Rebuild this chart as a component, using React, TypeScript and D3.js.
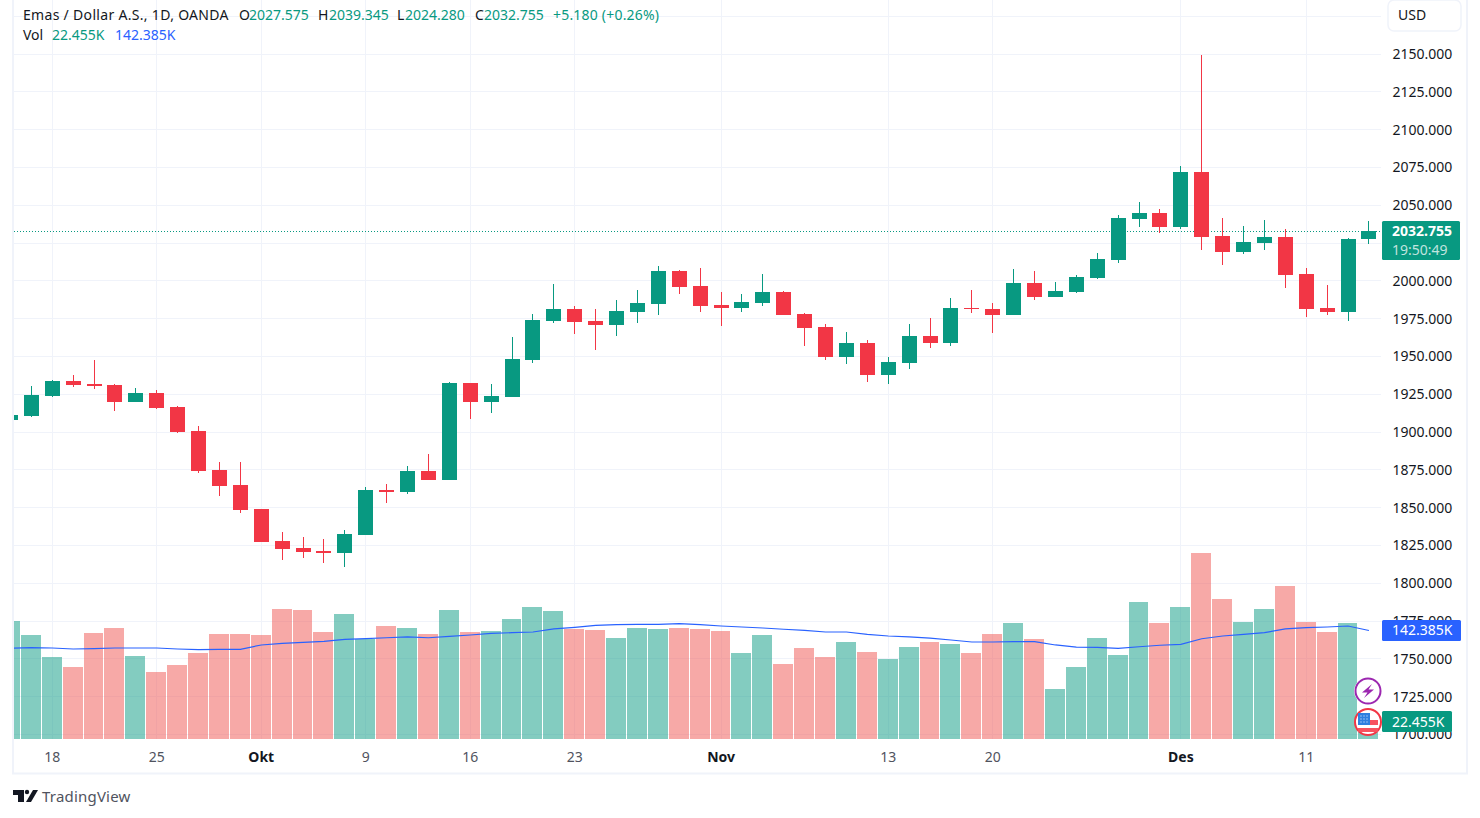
import React, { useEffect, useRef } from "react";
import * as d3 from "d3";

const opens = [1907.7, 1910.3, 1923.5, 1933.4, 1931.5, 1930.8, 1919.6, 1925.5, 1916.2, 1900.4, 1874.6, 1864.7, 1848.8, 1827.6, 1823.0, 1821.0, 1819.7, 1831.6, 1861.4, 1860.0, 1873.9, 1868.0, 1932.1, 1919.6, 1922.9, 1947.3, 1973.1, 1981.1, 1973.1, 1970.5, 1979.1, 1984.4, 2006.2, 1996.3, 1983.7, 1981.7, 1985.0, 1992.3, 1977.8, 1969.2, 1949.3, 1958.6, 1937.4, 1945.3, 1963.2, 1958.6, 1981.7, 1981.1, 1977.1, 1998.3, 1989.0, 1992.3, 2001.6, 2013.5, 2040.6, 2044.5, 2035.3, 2071.7, 2029.3, 2018.7, 2024.7, 2028.7, 2004.2, 1981.7, 1979.1, 2027.575];
const highs = [1911.0, 1930.1, 1934.1, 1937.4, 1947.3, 1931.5, 1928.8, 1927.5, 1916.9, 1903.7, 1879.9, 1879.9, 1848.8, 1833.6, 1830.3, 1829.0, 1834.9, 1863.3, 1865.3, 1877.2, 1885.2, 1932.8, 1932.1, 1931.5, 1962.5, 1977.8, 1997.6, 1983.0, 1981.1, 1987.0, 1993.6, 2009.5, 2006.9, 2008.2, 1992.3, 1991.0, 2004.2, 1993.0, 1978.4, 1971.1, 1965.8, 1960.6, 1949.3, 1971.1, 1975.1, 1988.3, 1993.6, 1985.0, 2007.5, 2006.2, 1998.9, 2003.5, 2018.1, 2043.2, 2051.8, 2047.2, 2075.6, 2149.0, 2041.2, 2035.9, 2039.9, 2033.9, 2008.2, 1996.9, 2028.0, 2039.345];
const lows = [1907.7, 1909.6, 1922.9, 1929.5, 1928.2, 1913.6, 1919.6, 1914.9, 1899.1, 1872.6, 1857.4, 1846.2, 1827.0, 1815.1, 1816.4, 1813.1, 1810.4, 1831.6, 1852.8, 1858.7, 1868.0, 1868.0, 1908.3, 1912.3, 1922.9, 1945.3, 1971.8, 1964.5, 1953.9, 1963.2, 1971.8, 1977.1, 1991.0, 1979.1, 1969.8, 1979.1, 1983.0, 1977.1, 1956.6, 1947.3, 1944.7, 1932.8, 1931.5, 1941.4, 1955.3, 1956.6, 1978.4, 1965.2, 1977.1, 1987.0, 1989.0, 1991.6, 2000.9, 2011.5, 2035.3, 2031.3, 2033.9, 2020.1, 2010.2, 2017.4, 2020.1, 1995.0, 1975.8, 1977.1, 1973.1, 2024.28];
const closes = [1911.0, 1924.2, 1933.4, 1930.8, 1930.1, 1919.6, 1925.5, 1915.6, 1899.7, 1873.9, 1864.0, 1848.1, 1827.0, 1822.4, 1820.4, 1819.7, 1832.3, 1861.4, 1860.0, 1873.9, 1868.0, 1932.1, 1919.6, 1923.5, 1948.0, 1973.8, 1981.1, 1972.5, 1970.5, 1979.7, 1985.0, 2006.2, 1995.6, 1983.0, 1981.7, 1985.7, 1992.3, 1977.1, 1968.5, 1949.3, 1958.6, 1937.4, 1946.0, 1963.2, 1958.6, 1981.7, 1981.1, 1977.1, 1998.3, 1989.0, 1993.0, 2002.2, 2014.1, 2041.2, 2044.5, 2035.3, 2071.7, 2028.7, 2018.7, 2025.4, 2028.7, 2003.5, 1981.1, 1979.1, 2027.3, 2032.755];
const volumes = [154.9, 136.5, 107.6, 94.5, 139.1, 145.7, 108.9, 87.9, 97.1, 112.9, 137.8, 137.8, 136.5, 170.6, 169.3, 140.4, 164.0, 131.2, 148.3, 145.7, 137.8, 169.3, 140.4, 141.7, 157.5, 173.2, 168.0, 144.4, 143.0, 132.5, 145.7, 144.4, 145.7, 144.4, 141.7, 112.9, 136.5, 98.4, 119.4, 107.6, 127.3, 114.2, 105.0, 120.7, 127.3, 124.7, 112.9, 137.8, 152.2, 131.2, 65.6, 94.5, 132.5, 110.2, 179.8, 152.2, 173.2, 244.1, 183.7, 153.5, 170.6, 200.8, 153.5, 140.4, 152.2, 22.455];
const volumeMa = [119.0, 119.8, 119.4, 118.1, 118.5, 119.4, 119.4, 119.4, 118.1, 117.2, 117.7, 117.7, 123.4, 125.6, 126.9, 128.2, 130.8, 131.6, 132.9, 133.9, 132.9, 134.8, 136.5, 138.7, 139.5, 140.4, 144.4, 146.6, 149.2, 150.0, 150.5, 150.5, 151.3, 150.0, 148.3, 147.0, 145.7, 144.0, 142.6, 140.4, 140.4, 137.4, 135.2, 133.9, 132.5, 129.9, 127.3, 127.3, 127.7, 127.7, 123.4, 120.7, 120.3, 119.0, 121.1, 123.0, 124.3, 131.6, 135.2, 137.4, 139.5, 144.4, 146.1, 147.0, 148.3, 142.385];

const priceTicks = [2150, 2125, 2100, 2075, 2050, 2025, 2000, 1975, 1950, 1925, 1900, 1875, 1850, 1825, 1800, 1775, 1750, 1725, 1700];
const timeTickIndex = [2, 7, 12, 17, 22, 27, 34, 42, 47, 56, 62];
const timeTickLabels = ["18", "25", "Okt", "9", "16", "23", "Nov", "13", "20", "Des", "11"];
const monthLabels = ["Okt", "Nov", "Des"];

const UP = "#089981";
const DOWN = "#F23645";
const VOL_DOWN = "#EF5350";
const GRID = "#F0F3FA";
const INK = "#131722";
const FONT = "'Noto Sans', sans-serif";

const paneRight = 1381;
const paneBottom = 739;

function App() {
  const svgRef = useRef<SVGSVGElement | null>(null);

  useEffect(() => {
    drawChart();
  }, []);

  const drawChart = () => {
    const svg = d3.select(svgRef.current);
    svg.selectAll("*").remove();

    const x = d3.scaleLinear().domain([0, 65]).range([10.45, 1368.95]);
    const y = d3.scaleLinear().domain([2150, 1700]).range([53.5, 734]);
    const yVol = d3.scaleLinear().domain([0, 244.1]).range([paneBottom, 553]);
    const px = (i: number) => Math.floor(x(i));

    svg.append("rect").attr("width", 1480).attr("height", 818).attr("fill", "#fff");

    const defs = svg.append("defs");
    defs.append("clipPath").attr("id", "pane").append("rect")
      .attr("x", 14).attr("y", 0).attr("width", paneRight - 14).attr("height", paneBottom);
    defs.append("clipPath").attr("id", "priceAxis").append("rect")
      .attr("x", paneRight).attr("y", 0).attr("width", 90).attr("height", paneBottom);

    // frame
    svg.append("path")
      .attr("d", "M13,0V773.5H1467V0")
      .attr("fill", "none")
      .attr("stroke", GRID)
      .attr("stroke-width", 2);

    const pane = svg.append("g").attr("clip-path", "url(#pane)");

    // grid
    pane.selectAll(".hgrid")
      .data([2175, ...priceTicks])
      .enter()
      .append("line")
      .attr("x1", 14)
      .attr("x2", paneRight)
      .attr("y1", (d) => Math.round(y(d)) + 0.5)
      .attr("y2", (d) => Math.round(y(d)) + 0.5)
      .attr("stroke", GRID);
    pane.selectAll(".vgrid")
      .data(timeTickIndex)
      .enter()
      .append("line")
      .attr("x1", (d) => px(d) + 0.5)
      .attr("x2", (d) => px(d) + 0.5)
      .attr("y1", 0)
      .attr("y2", paneBottom)
      .attr("stroke", GRID);

    // volume, always one pixel of white between neighbours
    pane.selectAll(".vol")
      .data(volumes)
      .enter()
      .append("rect")
      .attr("x", (_, i) => px(i) - 10)
      .attr("width", (_, i) => px(i + 1) - px(i) - 1)
      .attr("y", (d) => yVol(d))
      .attr("height", (d) => paneBottom - yVol(d))
      .attr("shape-rendering", "crispEdges")
      .attr("fill", (_, i) => (closes[i] >= opens[i] ? UP : VOL_DOWN))
      .attr("fill-opacity", 0.5);

    const maLine = d3.line<number>().x((_, i) => x(i)).y((d) => yVol(d));
    pane.append("path")
      .datum(volumeMa)
      .attr("fill", "none")
      .attr("stroke", "#2962FF")
      .attr("stroke-width", 1.2)
      .attr("d", maLine);

    // last price line
    pane.append("line")
      .attr("x1", 14)
      .attr("x2", paneRight)
      .attr("y1", Math.round(y(closes[65])) + 0.5)
      .attr("y2", Math.round(y(closes[65])) + 0.5)
      .attr("stroke", UP)
      .attr("stroke-dasharray", "1 2");

    // candles
    const candle = pane.selectAll(".candle")
      .data(closes)
      .enter()
      .append("g")
      .attr("fill", (d, i) => (d >= opens[i] ? UP : DOWN))
      .attr("shape-rendering", "crispEdges");
    candle.append("rect")
      .attr("x", (_, i) => px(i))
      .attr("width", 1)
      .attr("y", (_, i) => y(highs[i]))
      .attr("height", (_, i) => y(lows[i]) - y(highs[i]));
    candle.append("rect")
      .attr("x", (_, i) => px(i) - 7)
      .attr("width", 15)
      .attr("y", (d, i) => y(Math.max(d, opens[i])))
      .attr("height", (d, i) => Math.max(1, Math.abs(y(d) - y(opens[i]))));

    // price axis, cut off at the bottom of the pane; 2025 sits behind the price badge
    const yAxis = d3.axisRight(y)
      .tickValues(priceTicks.filter((d) => d !== 2025))
      .tickSize(0)
      .tickPadding(0)
      .tickFormat((d) => d3.format(".3f")(d as number));
    const yAxisG = svg.append("g").attr("clip-path", "url(#priceAxis)").append("g")
      .attr("transform", "translate(1392.5,0.5)")
      .call(yAxis);
    yAxisG.select(".domain").remove();
    yAxisG.selectAll("text")
      .attr("font-family", FONT)
      .attr("font-size", 14)
      .attr("fill", INK);

    // time axis
    const xAxis = d3.axisBottom(x).tickValues(timeTickIndex).tickSize(0).tickPadding(0)
      .tickFormat((_, i) => timeTickLabels[i]);
    const xAxisG = svg.append("g")
      .attr("transform", "translate(-0.5,752)")
      .call(xAxis);
    xAxisG.select(".domain").remove();
    xAxisG.selectAll("text")
      .attr("font-family", FONT)
      .attr("font-size", 14)
      .attr("font-weight", (_, i) => (monthLabels.includes(timeTickLabels[i]) ? 700 : 400))
      .attr("fill", (_, i) => (monthLabels.includes(timeTickLabels[i]) ? INK : "#50535E"));

    const label = (
      tx: number,
      ty: number,
      value: string,
      fill: string,
      size = 14,
      weight = 400
    ) =>
      svg.append("text")
        .attr("x", tx)
        .attr("y", ty - 1)
        .attr("dominant-baseline", "central")
        .attr("font-family", FONT)
        .attr("font-size", size)
        .attr("font-weight", weight)
        .attr("fill", fill)
        .text(value);

    // header
    label(23, 15, "Emas / Dollar A.S., 1D, OANDA", INK).attr("letter-spacing", 0.31);
    label(239, 15, "O", INK);
    label(249, 15, "2027.575", UP);
    label(318, 15, "H", INK);
    label(329, 15, "2039.345", UP);
    label(397, 15, "L", INK);
    label(405, 15, "2024.280", UP);
    label(475, 15, "C", INK);
    label(484, 15, "2032.755", UP);
    label(553, 15, "+5.180 (+0.26%)", UP).attr("letter-spacing", 0.2);
    label(23, 35, "Vol", INK);
    label(52, 35, "22.455K", UP);
    label(115, 35, "142.385K", "#2962FF");

    // USD button
    svg.append("rect")
      .attr("x", 1388).attr("y", 0).attr("width", 73).attr("height", 31).attr("rx", 6)
      .attr("fill", "#fff").attr("stroke", GRID).attr("stroke-width", 1.5);
    label(1398, 15, "USD", INK);

    // axis badges
    const badge = (bx: number, by: number, w: number, h: number, fill: string) =>
      svg.append("rect")
        .attr("x", bx).attr("y", by).attr("width", w).attr("height", h).attr("rx", 1.5).attr("fill", fill);
    badge(1382, 221, 78, 39, UP);
    label(1392, 231, d3.format(".3f")(closes[65]), "#fff", 14, 700);
    label(1392, 250, "19:50:49", "#fff", 14).attr("fill-opacity", 0.75);
    badge(1382, 620, 79, 21, "#2962FF");
    label(1392, 630.5, `${d3.format(".3f")(volumeMa[65])}K`, "#fff");
    badge(1382, 711, 70, 21, UP);
    label(1392, 722, `${d3.format(".3f")(volumes[65])}K`, "#fff");

    // event markers
    const bolt = svg.append("g").attr("transform", "translate(1368,691)");
    bolt.append("circle").attr("r", 13.5).attr("fill", "#fff").attr("stroke", "#fff").attr("stroke-width", 1);
    bolt.append("circle").attr("r", 12.5).attr("fill", "#fff").attr("stroke", "#9C27B0").attr("stroke-width", 2);
    bolt.append("path").attr("d", "M4,-7L-6,1.5H-0.5L-4,7L6,-1.5H0.5Z").attr("fill", "#9C27B0");

    const flag = svg.append("g").attr("transform", "translate(1368,722)");
    flag.append("circle").attr("r", 13).attr("fill", "#fff").attr("stroke", "#F23645").attr("stroke-width", 2);
    flag.append("path").attr("d", "M2,-2H10V3H2Z").attr("fill", "#F7525F");
    flag.append("path").attr("d", "M-10,6H10V10H-10Z").attr("fill", "#F7525F");
    flag.append("path").attr("d", "M-10,-9H2V3H-10Z").attr("fill", "#2E7FE0");
    flag.selectAll(".star")
      .data(d3.cross([-7, -4, -1], [-6, -3, 0]))
      .enter()
      .append("circle")
      .attr("cx", (d) => d[0])
      .attr("cy", (d) => d[1])
      .attr("r", 0.7)
      .attr("fill", "#BBD6F7");

    // TradingView mark
    const logo = svg.append("g").attr("fill", INK);
    logo.append("path").attr("d", "M13,790H24V802H18V795H13Z");
    logo.append("circle").attr("cx", 27).attr("cy", 792).attr("r", 2.2);
    logo.append("path").attr("d", "M33,790H38L31,802H26Z");
    label(42, 797, "TradingView", "#50535E", 15).attr("letter-spacing", 0.2);
  };

  return (
    <svg
      ref={svgRef}
      width={1480}
      height={818}
      style={{ position: "absolute", left: 0, top: 0, display: "block" }}
    />
  );
}

export default App;
